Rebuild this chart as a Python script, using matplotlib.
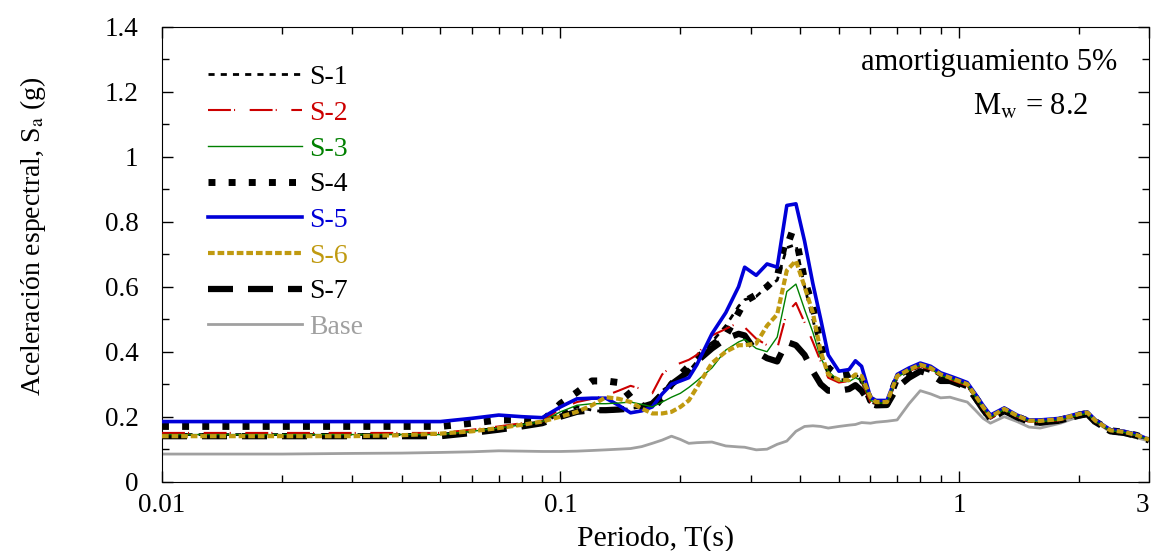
import matplotlib
matplotlib.use("Agg")
import matplotlib.pyplot as plt
from matplotlib.ticker import FixedLocator, NullFormatter, MultipleLocator, FuncFormatter

plt.rcParams['font.family'] = ['Liberation Serif', 'DejaVu Serif']
plt.rcParams['mathtext.fontset'] = 'stix'

# periodos, s
periodo = [0.01, 0.02, 0.03, 0.04, 0.05, 0.06, 0.07, 0.08, 0.09, 0.1,
           0.11, 0.12, 0.13, 0.14, 0.15, 0.16, 0.17, 0.18, 0.19, 0.2,
           0.21, 0.22, 0.24, 0.26, 0.28, 0.29, 0.31, 0.33, 0.35, 0.37,
           0.39, 0.41, 0.43, 0.45, 0.47, 0.5, 0.53, 0.55, 0.57, 0.6,
           0.62, 0.66, 0.7, 0.75, 0.8, 0.85, 0.9, 0.95, 1.0, 1.05,
           1.1, 1.15, 1.2, 1.3, 1.4, 1.5, 1.6, 1.8, 2.0, 2.1,
           2.2, 2.4, 2.6, 2.8, 3.0]

s1 = [0.145, 0.145, 0.145, 0.145, 0.145, 0.155, 0.165, 0.175, 0.18, 0.21,
      0.23, 0.22, 0.215, 0.22, 0.225, 0.23, 0.24, 0.28, 0.30, 0.32,
      0.34, 0.37, 0.43, 0.48, 0.54, 0.56, 0.57, 0.60, 0.62, 0.72,
      0.73, 0.60, 0.50, 0.40, 0.33, 0.31, 0.32, 0.33, 0.31, 0.245,
      0.24, 0.24, 0.32, 0.34, 0.355, 0.345, 0.325, 0.315, 0.305, 0.295,
      0.26, 0.225, 0.195, 0.22, 0.20, 0.185, 0.183, 0.19, 0.205, 0.21,
      0.185, 0.157, 0.152, 0.142, 0.128]

s2 = [0.15, 0.15, 0.15, 0.15, 0.15, 0.16, 0.17, 0.18, 0.185, 0.225,
      0.245, 0.255, 0.265, 0.28, 0.295, 0.285, 0.272, 0.33, 0.355, 0.365,
      0.375, 0.39, 0.45, 0.47, 0.49, 0.475, 0.44, 0.42, 0.41, 0.52,
      0.55, 0.49, 0.43, 0.37, 0.32, 0.305, 0.31, 0.325, 0.31, 0.245,
      0.24, 0.24, 0.32, 0.34, 0.355, 0.345, 0.325, 0.315, 0.305, 0.295,
      0.26, 0.225, 0.195, 0.22, 0.20, 0.185, 0.183, 0.19, 0.205, 0.21,
      0.185, 0.157, 0.152, 0.142, 0.128]

s3 = [0.145, 0.145, 0.145, 0.145, 0.145, 0.155, 0.165, 0.175, 0.185, 0.215,
      0.235, 0.24, 0.24, 0.242, 0.245, 0.238, 0.23, 0.245, 0.26, 0.272,
      0.29, 0.31, 0.35, 0.405, 0.43, 0.438, 0.41, 0.40, 0.445, 0.585,
      0.608, 0.53, 0.46, 0.38, 0.34, 0.31, 0.308, 0.32, 0.31, 0.25,
      0.242, 0.242, 0.322, 0.342, 0.357, 0.347, 0.327, 0.317, 0.307, 0.297,
      0.262, 0.227, 0.197, 0.222, 0.202, 0.187, 0.185, 0.19, 0.205, 0.21,
      0.185, 0.157, 0.152, 0.142, 0.128]

s4 = [0.17, 0.17, 0.17, 0.17, 0.17, 0.18, 0.19, 0.19, 0.186, 0.24,
      0.275, 0.31, 0.31, 0.305, 0.26, 0.235, 0.22, 0.26, 0.30, 0.33,
      0.355, 0.38, 0.42, 0.45, 0.52, 0.555, 0.575, 0.60, 0.63, 0.76,
      0.75, 0.62, 0.54, 0.42, 0.35, 0.325, 0.33, 0.34, 0.32, 0.25,
      0.24, 0.24, 0.32, 0.34, 0.355, 0.345, 0.325, 0.315, 0.305, 0.295,
      0.26, 0.225, 0.195, 0.22, 0.20, 0.185, 0.183, 0.19, 0.205, 0.21,
      0.185, 0.157, 0.152, 0.142, 0.128]

s5 = [0.185, 0.185, 0.185, 0.185, 0.185, 0.195, 0.205, 0.20, 0.197, 0.23,
      0.255, 0.257, 0.257, 0.235, 0.212, 0.218, 0.23, 0.27, 0.30, 0.31,
      0.32, 0.36, 0.455, 0.52, 0.60, 0.66, 0.635, 0.67, 0.66, 0.85,
      0.855, 0.74, 0.61, 0.50, 0.39, 0.34, 0.345, 0.372, 0.355, 0.26,
      0.25, 0.25, 0.33, 0.35, 0.365, 0.355, 0.335, 0.325, 0.315, 0.305,
      0.27, 0.235, 0.205, 0.227, 0.205, 0.19, 0.19, 0.195, 0.21, 0.215,
      0.19, 0.16, 0.155, 0.145, 0.13]

s6 = [0.14, 0.14, 0.14, 0.143, 0.148, 0.155, 0.165, 0.175, 0.185, 0.20,
      0.215, 0.235, 0.26, 0.255, 0.245, 0.225, 0.21, 0.21, 0.215, 0.23,
      0.25, 0.29, 0.365, 0.40, 0.42, 0.42, 0.425, 0.48, 0.515, 0.65,
      0.68, 0.60, 0.52, 0.40, 0.33, 0.313, 0.313, 0.33, 0.325, 0.26,
      0.245, 0.245, 0.325, 0.345, 0.36, 0.35, 0.33, 0.32, 0.31, 0.30,
      0.265, 0.23, 0.20, 0.224, 0.203, 0.188, 0.187, 0.193, 0.208, 0.213,
      0.188, 0.158, 0.153, 0.143, 0.129]

s7 = [0.14, 0.14, 0.14, 0.14, 0.14, 0.15, 0.16, 0.17, 0.18, 0.20,
      0.215, 0.22, 0.22, 0.222, 0.225, 0.23, 0.24, 0.27, 0.30, 0.32,
      0.34, 0.37, 0.41, 0.44, 0.455, 0.45, 0.40, 0.38, 0.37, 0.43,
      0.42, 0.39, 0.34, 0.30, 0.28, 0.28, 0.285, 0.297, 0.28, 0.24,
      0.235, 0.236, 0.29, 0.32, 0.34, 0.33, 0.31, 0.31, 0.30, 0.29,
      0.258, 0.222, 0.192, 0.218, 0.198, 0.183, 0.182, 0.188, 0.203, 0.208,
      0.183, 0.155, 0.15, 0.14, 0.127]

base = [0.085, 0.085, 0.087, 0.088, 0.09, 0.092, 0.095, 0.094, 0.093, 0.093,
        0.094, 0.096, 0.098, 0.10, 0.102, 0.108, 0.118, 0.128, 0.14, 0.13,
        0.118, 0.12, 0.122, 0.11, 0.107, 0.106, 0.098, 0.10, 0.115, 0.125,
        0.155, 0.17, 0.172, 0.17, 0.165, 0.17, 0.174, 0.176, 0.182, 0.18,
        0.183, 0.186, 0.19, 0.24, 0.28, 0.27, 0.258, 0.26, 0.252, 0.245,
        0.22, 0.195, 0.18, 0.20, 0.185, 0.168, 0.165, 0.18, 0.20, 0.205,
        0.185, 0.153, 0.145, 0.135, 0.125]

fig = plt.figure(figsize=(11.53, 5.51), dpi=100)
ax = fig.add_axes([0.1405, 0.1258, 0.856, 0.8257])

h1, = ax.plot(periodo, s1, color='black', lw=2.0, ls=(0, (2.2, 2.2)), label='S-1', zorder=4)
h2, = ax.plot(periodo, s2, color='#cc0000', lw=1.5, ls=(0, (11, 1.5, 0.5, 7)), label='S-2', zorder=5)
h3, = ax.plot(periodo, s3, color='#008000', lw=1.0, ls='-', label='S-3', zorder=7)
h4, = ax.plot(periodo, s4, color='black', lw=5.0, ls=(0, (1, 1.9)), label='S-4', zorder=3)
h5, = ax.plot(periodo, s5, color='#0000d8', lw=2.6, ls='-', label='S-5', zorder=6)
h6, = ax.plot(periodo, s6, color='#c09a10', lw=3.0, ls=(0, (1.6, 0.7)), label='S-6', zorder=8)
h7, = ax.plot(periodo, s7, color='black', lw=4.5, ls=(0, (4, 2.4)), label='S-7', zorder=2)
hb, = ax.plot(periodo, base, color='#a0a0a0', lw=2.0, ls='-', label='Base', zorder=1)

ax.set_xscale('log')
ax.set_xlim(0.01, 3)
ax.set_ylim(0, 1.4)

ax.xaxis.set_major_locator(FixedLocator([0.01, 0.1, 1, 3]))
ax.xaxis.set_major_formatter(FuncFormatter(lambda v, p: '%g' % v))
minors = [m * d for d in (0.01, 0.1, 1) for m in range(2, 10) if m * d < 3]
ax.xaxis.set_minor_locator(FixedLocator(minors))
ax.xaxis.set_minor_formatter(NullFormatter())
ax.yaxis.set_major_locator(MultipleLocator(0.2))
ax.yaxis.set_minor_locator(MultipleLocator(0.1))
ax.yaxis.set_major_formatter(FuncFormatter(lambda v, p: '%g' % round(v, 2)))

ax.tick_params(which='both', direction='in', top=True, right=True, width=1, labelsize=19.5)
ax.tick_params(which='major', length=8)
ax.tick_params(which='minor', length=5)
ax.tick_params(axis='x', pad=8)
ax.tick_params(axis='y', pad=17)

fig.canvas.draw()
ax.get_xticklabels()[-1].set_horizontalalignment('right')

ax.set_xlabel('Periodo, T(s)', fontsize=21.5, labelpad=5)
ax.set_ylabel('Aceleración espectral, S$_{\\rm a}$ (g)', fontsize=20)
ax.yaxis.set_label_coords(-0.115, 0.54)

ax.text(0.9676, 0.905, 'amortiguamiento 5%', transform=ax.transAxes,
        ha='right', va='baseline', fontsize=22)
ax.text(0.939, 0.806, 'M$_{\\rm w}$ = 8.2', transform=ax.transAxes,
        ha='right', va='baseline', fontsize=22)

leg = ax.legend(handles=[h1, h2, h3, h4, h5, h6, h7, hb], loc='upper left',
                bbox_to_anchor=(0.035, 0.941), frameon=False, fontsize=20,
                handlelength=3.4, handletextpad=0.25, labelspacing=0.37,
                borderaxespad=0)
for txt, h in zip(leg.get_texts(), leg.legend_handles):
    txt.set_color(h.get_color())

fig.savefig('out.png', dpi=100)
